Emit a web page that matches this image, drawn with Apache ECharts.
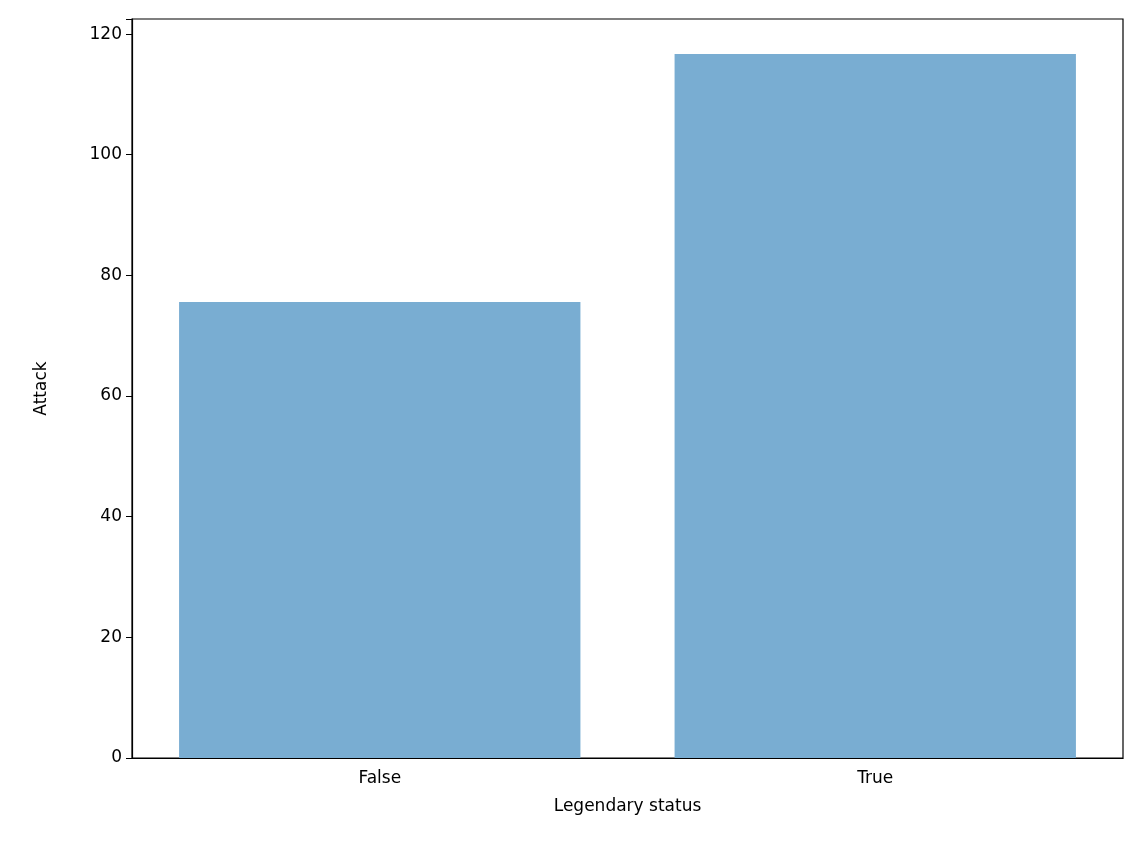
<!DOCTYPE html>
<html><head><meta charset="utf-8">
<script src="https://cdn.jsdelivr.net/npm/echarts@6/dist/echarts.min.js"></script>
<style>html,body{margin:0;padding:0;background:#fff}#c{width:1143px;height:865px}</style>
</head><body><div id="c"></div>
<script>
const categories = ['False', 'True'];
const attackValues = [75.6, 116.7];
const yTicks = [0, 20, 40, 60, 80, 100, 120];

const chart = echarts.init(document.getElementById('c'));
const font = 'DejaVu Sans';
chart.setOption({
  animation: false,
  grid: {left: 132, right: 20, top: 19, bottom: 107, show: true, borderColor: '#000', borderWidth: 1.2, backgroundColor: 'transparent'},
  xAxis: {
    type: 'category', data: categories,
    name: 'Legendary status', nameLocation: 'middle', nameGap: 40,
    nameTextStyle: {fontFamily: font, fontSize: 17, color: '#000'},
    axisLine: {lineStyle: {color: '#000', width: 1.2}},
    axisTick: {alignWithLabel: true, length: 6, lineStyle: {color: '#000'}},
    axisLabel: {fontFamily: font, fontSize: 17, color: '#000', margin: 12}
  },
  yAxis: {
    type: 'value', min: 0, max: 122.5, interval: 20,
    name: 'Attack', nameLocation: 'middle', nameGap: 82,
    nameTextStyle: {fontFamily: font, fontSize: 17, color: '#000'},
    axisLine: {show: true, lineStyle: {color: '#000', width: 1.2}},
    axisTick: {show: true, length: 6, lineStyle: {color: '#000'}},
    splitLine: {show: false},
    axisLabel: {fontFamily: font, fontSize: 17, color: '#000', margin: 10,
      formatter: v => yTicks.includes(v) ? String(v) : ''}
  },
  series: [{
    type: 'bar', data: attackValues, barCategoryGap: '19%',
    itemStyle: {color: 'rgb(121,173,210)'}
  }]
});
</script></body></html>
